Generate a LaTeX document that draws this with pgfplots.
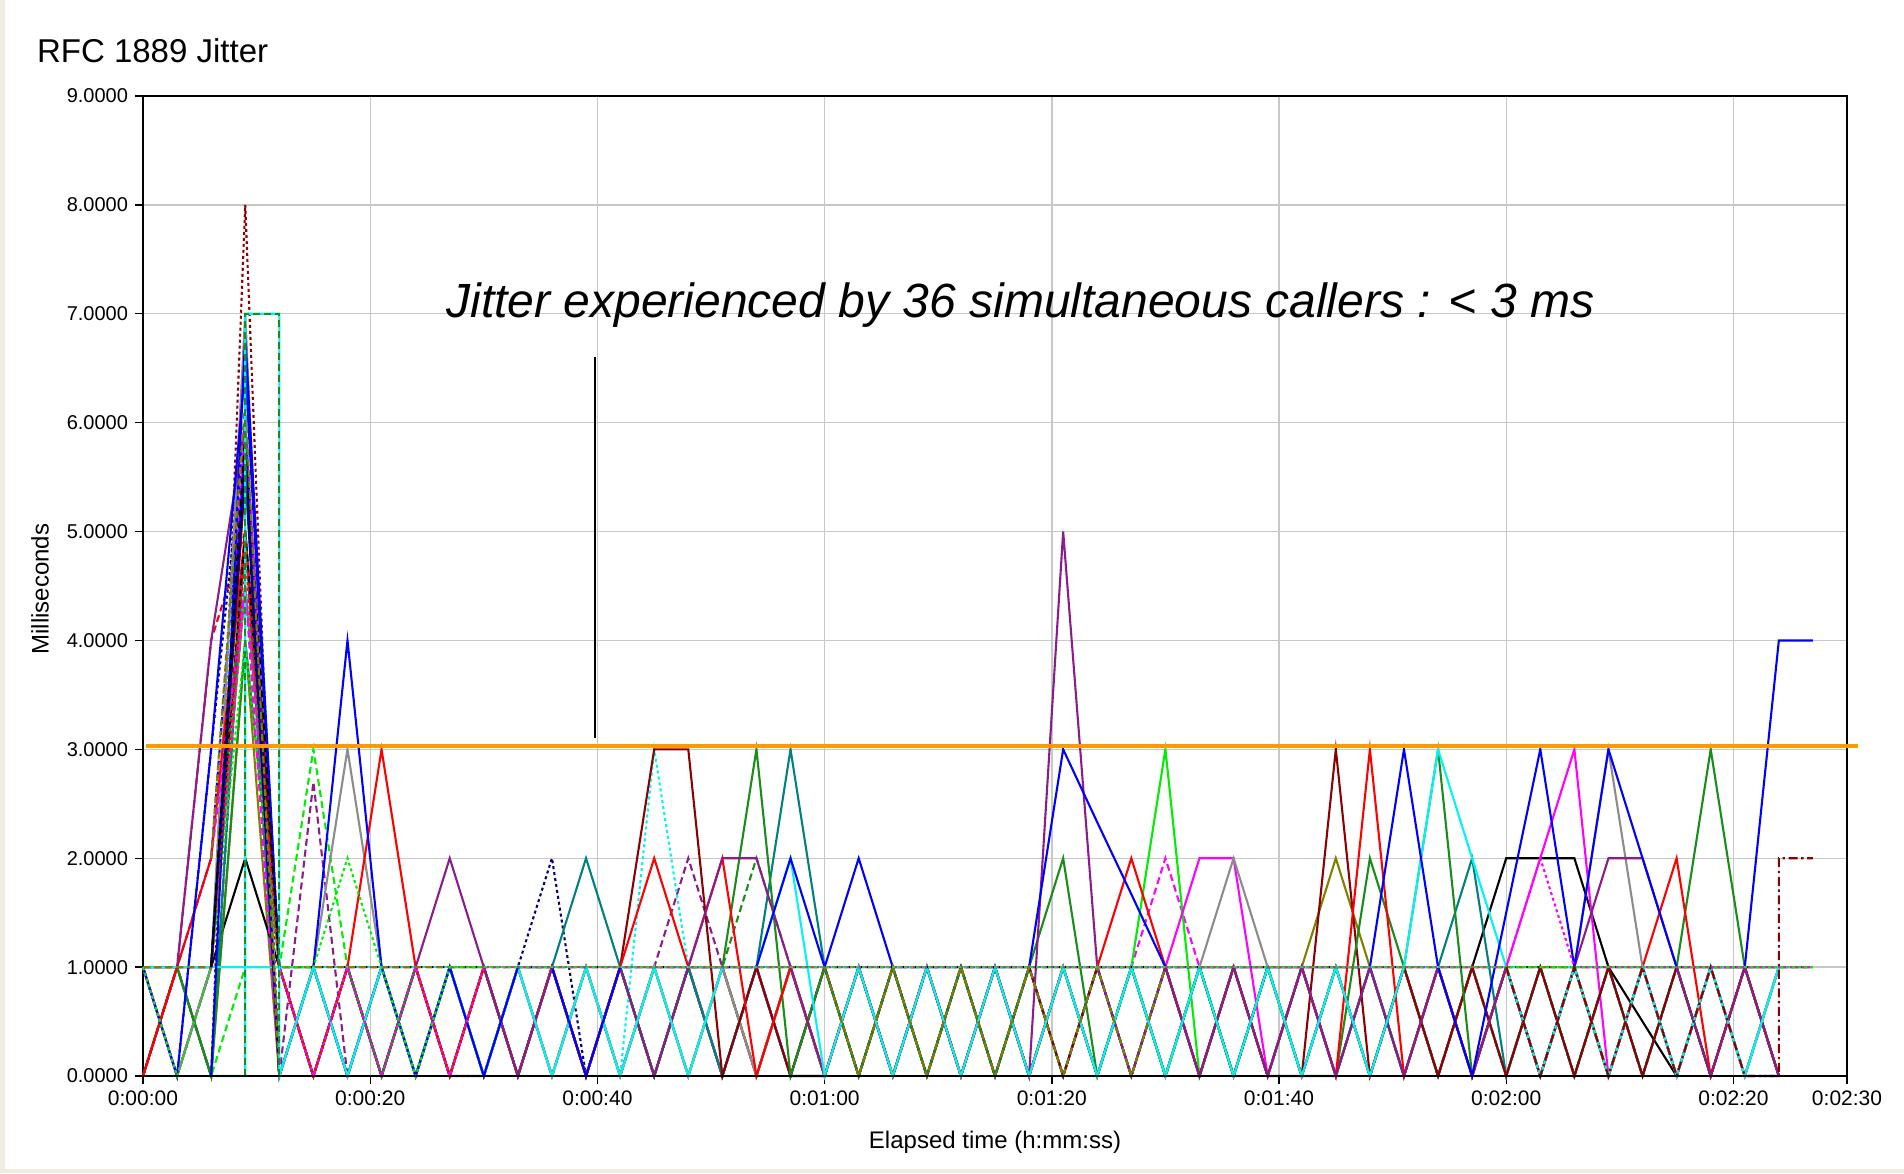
\documentclass[border=0pt]{standalone}
\usepackage{pgfplots}
\pgfplotsset{compat=1.18}
\usepackage{pgfplotstable}
\usepackage{fontspec}
\setmainfont{Liberation Sans}

\definecolor{cBlue}{HTML}{0000FF}
\definecolor{cRed}{HTML}{FF0000}
\definecolor{cLime}{HTML}{00EE00}
\definecolor{cDGreen}{HTML}{1A8C1A}
\definecolor{cCyan}{HTML}{00F4F4}
\definecolor{cMag}{HTML}{FF00FF}
\definecolor{cPurp}{HTML}{8B1C8B}
\definecolor{cMaroon}{HTML}{8B0000}
\definecolor{cNavy}{HTML}{000080}
\definecolor{cTeal}{HTML}{008080}
\definecolor{cOlive}{HTML}{808000}
\definecolor{cGray}{HTML}{8C8C8C}
\definecolor{cOrange}{HTML}{FF9900}
\definecolor{cGrid}{HTML}{C8C8C8}
\definecolor{cFrame}{HTML}{EFEDE0}

\tikzset{
  dashS/.style={dash pattern=on 3.5pt off 2pt},
  dotS/.style={dash pattern=on 1.5pt off 1.5pt},
  ddS/.style={dash pattern=on 4.5pt off 1.8pt on 1.2pt off 1.8pt},
}

% one row per caller, samples every 3 s
\pgfplotstableread[header=false]{
t 0 3 6 9 12 15 18 21 24 27  30 33 36 39 42 45 48 51 54 57  60 63 66 69 72 75 78 81 84 87  90 93 96 99 102 105 108 111 114 117  120 123 126 129 132 135 138 141 144 147
blueA 1 0 3 6.5 1 1 4 1 0 1  0 1 1 0 1 1 1 1 1 2  1 2 1 1 1 1 1 3 2.33 1.67  1 1 1 1 1 1 1 3 1 0  1.5 3 1 3 2 1 1 1 4 4
cyanF 1 1 1 1 1 1 1 1 1 1  1 1 1 1 1 1 1 1 1 1  1 1 1 1 1 1 1 1 1 1  1 1 1 1 1 1 1 1 1 1  1 1 1 1 1 1 1 1 1 1
redA 0 1 2 5 1 0 1 3 1 0  1 0 1 0 1 2 1 2 0 1  0 1 0 1 0 1 0 1 1 2  1 0 1 0 1 0 3 0 1 0  1 0 1 0 1 2 0 1 0 nan
dgreenA 1 1 0 4 1 0 1 0 1 0  1 0 1 0 1 0 1 1 3 0  1 0 1 0 1 0 1 2 0 1  0 1 0 1 0 0 2 1 3 0  1 0 1 0 1 1 3 1 0 nan
limeA 1 0 1 4.5 1 0 1 0 1 0  1 0 1 0 1 0 1 0 1 0  1 0 1 0 1 0 1 0 1 1  3 0 1 0 1 0 1 0 1 0  1 0 1 0 1 0 1 0 1 nan
limeD 0 1 0 1 1 3 1 0 1 0  0 1 0 1 0 1 0 1 0 1  0 1 0 1 0 1 0 1 0 1  0 1 0 1 0 1 0 1 0 1  0 1 0 1 0 1 0 1 0 nan
magA 1 0 1 6 1 0 1 0 1 0  1 0 1 0 1 0 1 0 1 0  1 0 1 0 1 0 1 0 1 1  1 2 2 0 1 0 1 0 1 0  1 2 3 0 1 0 1 0 1 nan
magD 0 1 0 5 1 0 1 0 1 0  0 1 0 1 0 1 0 1 0 1  0 1 0 1 0 1 0 1 0 1  2 1 1 1 1 1 1 1 1 1  1 1 1 1 1 1 1 1 1 nan
blackA 1 1 1 2 1 0 1 0 1 0  1 0 1 0 1 0 1 0 1 0  0 1 0 1 0 1 0 1 0 1  0 1 0 1 0 1 0 1 0 1  2 2 2 1 0.5 0 1 1 1 1
maroonA 0 1 1 5.5 1 0 1 0 1 0  1 0 1 0 1 3 3 0 1 0  1 0 1 0 1 0 1 0 1 0  1 0 1 0 0 3 0 1 0 1  0 1 0 1 0 1 0 1 0 nan
oliveA 0 1 0 4 0 1 0 1 0 1  0 1 0 1 0 1 0 1 0 1  0 1 0 1 0 1 0 1 0 1  0 1 0 1 1 2 1 0 1 0  1 0 1 0 1 0 1 0 1 nan
grayA 1 0 1 7 0 1 3 1 0 1  0 1 0 1 0 1 0 1 0 1  0 1 0 1 0 1 0 1 0 1  0 1 2 1 0 1 0 1 0 1  0 1 1 3 1 0 1 0 1 nan
purpA 1 1 4 6 0 1 0 1 1 2  1 0 1 0 1 0 1 2 2 1  0 1 0 1 0 1 0 5 1 0  1 0 1 0 1 0 1 0 1 0  1 0 1 2 2 1 0 1 0 nan
tealA 0 1 0 5 0 1 0 1 0 1  0 1 1 2 1 0 1 0 1 3  1 0 1 0 1 0 1 0 1 0  1 0 1 0 1 0 1 0 1 2  0 1 0 1 0 1 0 1 0 nan
navyD 1 0 3 6 0 1 0 1 0 1  0 1 2 0 1 0 1 0 1 0  1 0 1 0 1 0 1 0 1 0  1 0 1 0 1 0 1 0 1 0  1 0 1 0 1 0 1 0 1 nan
purpD 0 1 0 5 0 2.7 0 1 0 1  0 1 0 1 0 1 2 1 0 1  0 1 0 1 0 1 0 1 0 1  0 1 0 1 0 1 0 1 0 1  0 1 0 1 0 1 0 1 0 nan
cyanD 1 0 1 6.8 1 0 1 0 1 0  1 0 1 0 0 3 1 0 1 0  1 0 1 0 1 0 1 0 1 0  1 0 1 0 1 0 1 0 1 0  1 0 1 0 1 0 1 0 1 nan
maroonDot 1 1 0 8 0 1 0 1 0 1  0 1 0 1 0 1 0 1 0 1  0 1 0 1 0 1 0 1 0 1  0 1 0 1 0 1 0 1 0 1  0 1 0 1 0 1 0 1 0 nan
tealDD 1 0 1 5 1 0 1 0 1 0  1 0 1 0 1 0 1 0 1 0  1 1 1 1 1 1 1 1 1 1  1 0 1 0 1 0 1 0 1 0  1 0 1 0 1 0 1 0 1 nan
oliveD 1 1 1 4.5 1 1 1 1 1 1  1 1 1 1 1 1 1 1 1 1  1 0 1 0 1 0 1 0 1 0  1 1 1 1 1 1 1 1 1 1  1 1 1 1 1 1 1 1 1 1
redD 0 1 4 5 1 0 1 1 0 1  0 1 0 1 0 1 0 1 0 1  0 1 0 1 0 1 0 1 0 1  0 1 0 1 0 1 0 1 0 1  0 1 0 1 0 1 0 1 0 nan
blackD 1 1 1 5 1 1 1 1 1 1  1 1 1 1 1 1 1 1 1 1  1 1 1 1 1 1 1 1 1 1  1 1 1 1 1 1 1 1 1 1  1 1 1 1 1 1 1 1 1 1
blueD 0 1 2 6 0 1 0 1 0 1  1 0 1 0 1 0 1 0 1 0  1 0 1 0 1 0 1 0 1 0  1 0 1 0 1 0 1 0 1 0  1 0 1 0 1 0 1 0 0 nan
magDot 1 0 1 4.5 1 0 1 0 1 0  1 1 1 1 1 1 1 1 1 1  1 1 1 1 1 1 1 1 1 1  1 1 1 1 1 1 1 1 1 1  1 2 1 1 1 1 1 1 1 1
limeDot 1 0 1 4 1 1 2 1 0 1  1 1 1 1 1 1 1 1 1 1  1 1 1 1 1 1 1 1 1 1  1 1 1 1 1 1 1 1 1 1  1 1 1 1 1 1 1 1 1 1
cyanB 1 1 1 1 1 1 0 1 0 1  0 1 0 1 0 1 0 1 1 2  0 1 0 1 0 1 0 1 0 1  0 1 0 1 0 1 0 1 3 2  1 0 1 0 1 0 1 0 1 nan
dgreenD 1 0 1 5 1 0 1 0 1 0  1 0 1 0 1 0 1 1 2 1  0 1 0 1 0 1 0 1 0 1  0 1 0 1 0 1 0 1 0 1  0 1 0 1 0 1 0 1 0 nan
}\raw
\pgfplotstabletranspose[colnames from=0]{\data}{\raw}

\begin{document}
\begin{tikzpicture}
\fill[cFrame] (-71.5pt,-48.5pt) rectangle (880.5pt,538pt);
\fill[white] (-69pt,-46.5pt) rectangle (880.5pt,538pt);

\begin{axis}[
  at={(0,0)}, anchor=south west,
  width=852pt, height=490pt, scale only axis,
  xmin=0, xmax=150, ymin=0, ymax=9,
  clip=false,
  xtick={0,20,40,60,80,100,120,140,150},
  xticklabels={0:00:00,0:00:20,0:00:40,0:01:00,0:01:20,0:01:40,0:02:00,0:02:20,0:02:30},
  ytick={0,1,...,9},
  grid=major,
  major grid style={cGrid, line width=0.7pt},
  tick align=outside, tick pos=left,
  major tick length=4pt,
  tick style={black, line width=0.7pt},
  axis line style={black, line width=0.8pt},
  yticklabel style={/pgf/number format/fixed, /pgf/number format/fixed zerofill,
    /pgf/number format/precision=4, /pgf/number format/assume math mode=true,
    font=\fontsize{10}{12}\selectfont},
  xticklabel style={font=\fontsize{10.5}{12}\selectfont},
  every axis plot/.append style={line width=1.05pt},
]
% zigzag callers
\addplot[cMaroon, dotS] table[x=t, y=maroonDot] {\data};
\addplot[cTeal, ddS] table[x=t, y=tealDD] {\data};
\addplot[cRed, dashS] table[x=t, y=redD] {\data};
\addplot[cBlue, dashS] table[x=t, y=blueD] {\data};
\addplot[cDGreen, dashS] table[x=t, y=dgreenD] {\data};
\addplot[cLime, dashS] table[x=t, y=limeD] {\data};
\addplot[cMag, dashS] table[x=t, y=magD] {\data};
\addplot[cPurp, dashS] table[x=t, y=purpD] {\data};
\addplot[cNavy, dotS] table[x=t, y=navyD] {\data};
\addplot[cCyan, dotS] table[x=t, y=cyanD] {\data};
\addplot[cOlive] table[x=t, y=oliveA] {\data};
\addplot[black] table[x=t, y=blackA] {\data};
\addplot[cLime] table[x=t, y=limeA] {\data};
\addplot[cMag] table[x=t, y=magA] {\data};
\addplot[cGray] table[x=t, y=grayA] {\data};
\addplot[cTeal] table[x=t, y=tealA] {\data};
\addplot[cMaroon] table[x=t, y=maroonA] {\data};
\addplot[cDGreen] table[x=t, y=dgreenA] {\data};
\addplot[cRed] table[x=t, y=redA] {\data};
\addplot[cPurp] table[x=t, y=purpA] {\data};
\addplot[cCyan] table[x=t, y=cyanB] {\data};
\addplot[cBlue] table[x=t, y=blueA] {\data};
% flat callers at 1 ms
\addplot[cCyan] table[x=t, y=cyanF] {\data};
\addplot[black, dashS] table[x=t, y=blackD] {\data};
\addplot[cOlive, dashS] table[x=t, y=oliveD] {\data};
\addplot[cMag, dotS] table[x=t, y=magDot] {\data};
\addplot[cLime, dotS] table[x=t, y=limeDot] {\data};
% extra callers in the start-up burst
\addplot[cBlue] coordinates {(6,1) (9,5.8) (12,0)};
\addplot[cBlue] coordinates {(6,0) (9,6.8) (12,1)};
\addplot[cMag, dashS] coordinates {(6,2) (9,4.5) (12,0)};
\addplot[cRed, dotS] coordinates {(6,1) (9,4.8) (12,1)};
\addplot[cNavy] coordinates {(6,1) (9,5.6) (12,0)};
\addplot[black, dashS] coordinates {(6,1) (9,5.9) (12,1)};
\addplot[cOlive, dashS] coordinates {(6,2) (9,6.2) (12,0)};
\addplot[cCyan] coordinates {(6,0) (9,0) (9,7) (12,7) (12,0) (15,1)};
\addplot[cDGreen, dashS] coordinates {(9,0) (9,7) (12,7) (12,0)};
\addplot[cMaroon, ddS] coordinates {(120,1) (123,0) (126,1) (129,0) (132,1) (135,0) (138,1) (141,0) (144,0) (144,2) (147,2)};
% bottom axis line over the data
\draw[black, line width=0.8pt] (axis cs:0,0) -- (axis cs:150,0);
% threshold and note
\addplot[cOrange, line width=2.4pt] coordinates {(0.3,3.03) (151,3.03)};
\addplot[black, line width=1pt] coordinates {(39.8,3.1) (39.8,6.6)};
\node[anchor=base west, font=\fontsize{24}{28}\selectfont\itshape] at (axis cs:26.1,6.97)
  {Jitter experienced by 36 simultaneous callers : < 3 ms};
\end{axis}

\node[anchor=base west, font=\fontsize{16.5}{20}\selectfont] at (-56.5pt,506.5pt) {RFC 1889 Jitter};
\node[rotate=90, font=\fontsize{12}{14}\selectfont] at (-51.5pt,243.5pt) {Milliseconds};
\node[anchor=base, font=\fontsize{12}{14}\selectfont] at (426pt,-36.4pt) {Elapsed time (h:mm:ss)};

\pgfresetboundingbox
\path[use as bounding box] (-71.5pt,-48.5pt) rectangle (880.5pt,538pt);
\end{tikzpicture}
\end{document}
